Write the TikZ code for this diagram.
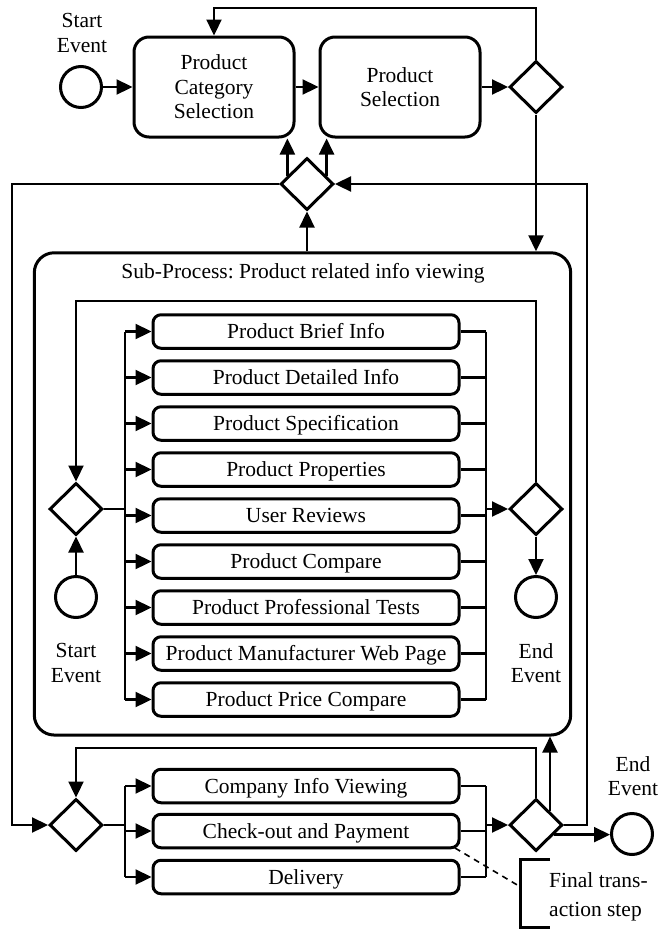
\documentclass[tikz,border=0pt]{standalone}
\usepackage{fontspec}
\setmainfont{Liberation Serif}
\usetikzlibrary{shapes.geometric,arrows.meta,calc}
\frenchspacing
\begin{document}
\begin{tikzpicture}[x=1pt,y=-1pt,
  every node/.style={font=\fontsize{21.5}{24.5}\selectfont},
  task/.style={draw,line width=3pt,rounded corners=8pt,minimum width=306pt,minimum height=33.5pt,inner sep=0pt,text height=16.2pt,text depth=2pt},
  bigtask/.style={draw,line width=3pt,rounded corners=15pt,minimum width=160pt,minimum height=100pt,inner sep=0pt,align=center},
  gw/.style={draw,diamond,line width=3pt,minimum width=53pt,minimum height=52pt,inner sep=0pt},
  ev/.style={draw,circle,line width=3pt,minimum size=41pt,inner sep=0pt},
  lbl/.style={align=center,inner sep=0pt},
  conn/.style={line width=2.3pt},
  arr/.style={line width=2.3pt,-{Triangle[length=16pt,width=15pt]}},
]
\useasboundingbox (0,0) rectangle (660,929);

% helper coordinates for routing
\coordinate (topy) at (0,8);
\coordinate (lx) at (12,0);
\coordinate (rx) at (587,0);
\coordinate (iy) at (0,301);
\coordinate (by) at (0,748);
\coordinate (fx) at (125,0);
\coordinate (mx) at (486,0);

% top row
\node[ev] (s0) at (81,87) {};
\node[lbl] (s0l) at (82,33) {Start\\Event};
\node[bigtask] (pcs) at (214,87) {Product\\Category\\Selection};
\node[bigtask] (ps) at (400,87) {Product\\Selection};
\node[gw] (g1) at (536,87) {};
\node[gw] (g2) at (307,184) {};

% sub-process
\node[draw,line width=3pt,rounded corners=20pt,minimum width=536.4pt,minimum height=482.3pt,inner sep=0pt] (sp) at (302.5,493.9) {};
\node[inner sep=0pt] (spt) at (303,273) {Sub-Process: Product related info viewing};

\node[gw] (g3) at (76,509) {};
\node[gw] (g4) at (536,509) {};
\node[ev] (s1) at (76,597) {};
\node[ev] (e1) at (536,597) {};
\node[lbl] (s1l) at (76,663) {Start\\Event};
\node[lbl] (e1l) at (536,663) {End\\Event};

\node[task] (t1) at (306,331.5) {Product Brief Info};
\node[task] (t2) at (306,377.5) {Product Detailed Info};
\node[task] (t3) at (306,423.5) {Product Specification};
\node[task] (t4) at (306,469.5) {Product Properties};
\node[task] (t5) at (306,515.5) {User Reviews};
\node[task] (t6) at (306,561.5) {Product Compare};
\node[task] (t7) at (306,607.5) {Product Professional Tests};
\node[task] (t8) at (306,653.5) {Product Manufacturer Web Page};
\node[task] (t9) at (306,699.5) {Product Price Compare};

% bottom part
\node[gw] (g5) at (76,825) {};
\node[gw] (g6) at (536,825) {};
\node[task] (b1) at (306,786) {Company Info Viewing};
\node[task] (b2) at (306,831) {Check-out and Payment};
\node[task] (b3) at (306,877) {Delivery};
\node[ev] (e2) at (632,834) {};
\node[lbl] (e2l) at (633,776) {End\\Event};

% annotation
\node[align=left,anchor=west,inner sep=0pt,font=\fontsize{21.5}{28.5}\selectfont] (ann) at (549,897) {Final trans-\\action step};
\coordinate (brt) at (550,859);
\coordinate (brb) at (550,927);
\draw[line width=3pt] (brt) -- (520,859) -- (520,927) -- (brb);
\coordinate (dstart) at (455,848);
\coordinate (dend) at (519,886);
\draw[line width=1.6pt,dash pattern=on 6pt off 5pt] (dstart) -- (dend);

% connectors top
\draw[arr] (s0) -- (pcs);
\draw[arr] (pcs) -- (ps);
\draw[arr] (ps) -- (g1);
\draw[arr] (g1.north) -- (g1.north |- topy) -| (pcs.north);
\draw[arr] (g1.south) -- (g1.south |- sp.north);
\coordinate (a1) at ($(g2.west)!0.3!(g2.north)$);
\coordinate (a2) at ($(g2.east)!0.3!(g2.north)$);
\draw[arr] (a1) -- (a1 |- pcs.south);
\draw[arr] (a2) -- (a2 |- ps.south);
\draw[arr] (g2.south |- sp.north) -- (g2.south);
\draw[arr] (g2.west) -- (g2.west -| lx) |- (g5.west);
\draw[arr] (g6.east) -- (g6.east -| rx) |- (g2.east);

% inner loop
\draw[arr] (g4.north) -- (g4.north |- iy) -| (g3.north);
\draw[arr] (s1.north) -- (g3.south);
\draw[arr] (g4.south) -- (e1.north);
\draw[conn] (g3.east) -- (g3.east -| fx);
\draw[conn] (t1.west -| fx) -- (t9.west -| fx);
\draw[conn] (t1.east -| mx) -- (t9.east -| mx);
\foreach \t in {t1,t2,t3,t4,t5,t6,t7,t8,t9}{
  \draw[arr] (\t.west -| fx) -- (\t.west);
  \draw[conn] (\t.east) -- (\t.east -| mx);
}
\draw[arr] (g4.west -| mx) -- (g4.west);

% bottom
\draw[arr] (g6.north) -- (g6.north |- by) -| (g5.north);
\coordinate (a3) at ($(g6.north)!0.5!(g6.east)$);
\draw[arr] (a3) -- (a3 |- sp.south);
\coordinate (a4) at ($(g6.east)!0.35!(g6.south)$);
\draw[arr] (a4) -- (a4 -| e2.west);
\draw[conn] (g5.east) -- (g5.east -| fx);
\draw[conn] (b1.west -| fx) -- (b3.west -| fx);
\draw[conn] (b1.east -| mx) -- (b3.east -| mx);
\foreach \t in {b1,b2,b3}{
  \draw[arr] (\t.west -| fx) -- (\t.west);
  \draw[conn] (\t.east) -- (\t.east -| mx);
}
\draw[arr] (g6.west -| mx) -- (g6.west);
\end{tikzpicture}
\end{document}
